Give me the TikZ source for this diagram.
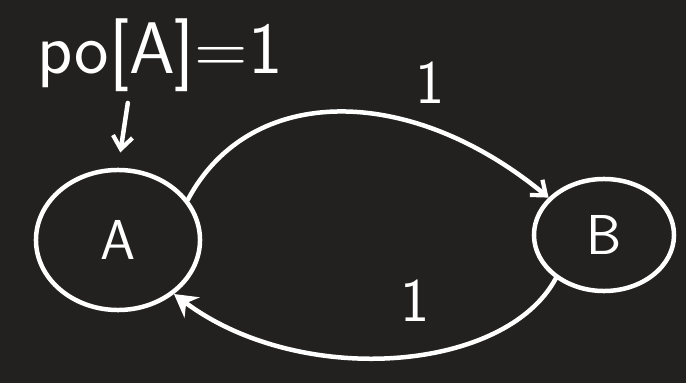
\documentclass[tikz,border=0pt]{standalone}
\usepackage{tikz}
\usetikzlibrary{positioning,arrows.meta,shapes.geometric,calc}
\definecolor{board}{HTML}{222120}

\begin{document}
\begin{tikzpicture}[x=0.025cm,y=0.025cm,font=\sffamily\bfseries,
  chalk/.style={white,line width=3.2pt,line cap=round},
  st/.style={ellipse,draw=white,line width=3.2pt,text=white,font=\sffamily\fontsize{40}{42}\selectfont},
  lab/.style={text=white,font=\sffamily\fontsize{44}{46}\selectfont,inner sep=2pt},
  ar/.style={chalk,-{Straight Barb[length=9pt,width=14pt,line width=3pt]}},
  arf/.style={chalk,-{Stealth[length=16pt,width=18pt]}}]
\fill[board](0,0)rectangle(686,383);
\useasboundingbox(0,0)rectangle(686,383);
\node[st,minimum width=4.1cm,minimum height=3.5cm](A)at(118,143){A};
\node[st,minimum width=3.5cm,minimum height=2.8cm](B)at(604,148){B};
\node[lab,font=\sffamily\fontsize{52}{54}\selectfont](init)at(160,328){po[A]=1};
\draw[ar,shorten <=6pt,shorten >=11pt]([xshift=-22pt]init.south)--(A.north);
\draw[ar](A.30) .. controls (250,300) and (410,300) .. node[lab,pos=0.72,above=14pt](w1){1} (B.146);
\draw[arf](B.-138) .. controls (505,10) and (300,-5) .. node[lab,pos=0.45,above=20pt](w2){1} (A.-44);
\end{tikzpicture}
\end{document}
